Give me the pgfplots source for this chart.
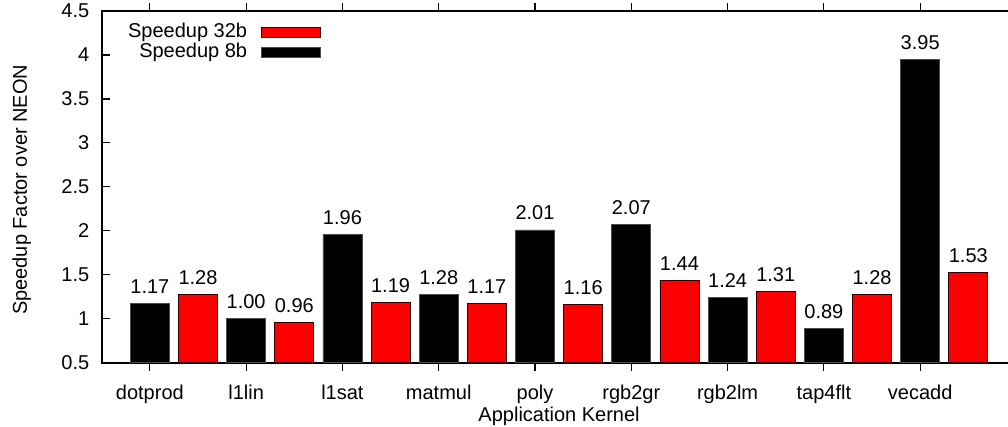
\documentclass[border=0pt]{standalone}
\usepackage{pgfplots}
\pgfplotsset{compat=1.18}
\usepackage{fontspec}
\setmainfont{Liberation Sans}
\pgfplotsset{/pgf/number format/assume math mode=true}
\begin{document}
\begin{tikzpicture}
\useasboundingbox (-50.85pt,-32.15pt) rectangle (453.15pt,181.35pt);
\begin{axis}[
  scale only axis, width=457.4pt, height=175.85pt,
  at={(0,0)}, anchor=south west,
  xmin=-0.5, xmax=9, ymin=0.5, ymax=4.5,
  ytick={0.5,1,1.5,2,2.5,3,3.5,4,4.5},
  xtick={0,1,2,3,4,5,6,7,8},
  xticklabels={dotprod,l1lin,l1sat,matmul,poly,rgb2gr,rgb2lm,tap4flt,vecadd},
  yticklabel style={anchor=east, inner sep=0pt, xshift=-6pt},
  xticklabel style={anchor=base, inner sep=0pt, yshift=-14.5pt},
  xlabel={Application Kernel},
  xlabel style={at={(axis description cs:0.5,-0.1666)}, anchor=base, inner sep=0pt},
  ylabel={Speedup Factor over NEON},
  ylabel style={at={(axis description cs:-0.0874,0.4915)}, anchor=center, inner sep=0pt},
  axis line style={line width=1pt},
  tick style={line width=0.6pt, black},
  major tick length=4pt,
  ybar, bar width=0.405,
  nodes near coords={\pgfmathprintnumber[fixed,fixed zerofill,precision=2]{\pgfplotspointmeta}},
  every node near coord/.append style={anchor=base, inner sep=0pt, yshift=5pt, black},
  legend image code/.code={\draw[#1,line width=0.4pt] (0pt,-2.5pt) rectangle (29.5pt,2.5pt);},
  legend plot pos=right,
  legend cell align=right,
  legend style={draw=none, fill=none, inner sep=0pt, outer sep=0pt, row sep=0pt, column sep=7pt,
    at={(axis cs:1.777,4.367)}, anchor=north east,
    nodes={inner sep=0pt, text height=7.3pt, text depth=2.7pt}},
]
\addplot[fill=red, draw=black!80!red, line width=0.4pt, bar shift=0pt] coordinates {
  (0.5,1.28) (1.5,0.96) (2.5,1.19) (3.5,1.17) (4.5,1.16) (5.5,1.44) (6.5,1.31) (7.5,1.28) (8.5,1.53)};
\addlegendentry{Speedup 32b}
\addplot[fill=black, draw=black!70, line width=0.4pt, bar shift=0pt] coordinates {
  (0,1.17) (1,1.00) (2,1.96) (3,1.28) (4,2.01) (5,2.07) (6,1.24) (7,0.89) (8,3.95)};
\addlegendentry{Speedup 8b}
\end{axis}
\end{tikzpicture}
\end{document}
